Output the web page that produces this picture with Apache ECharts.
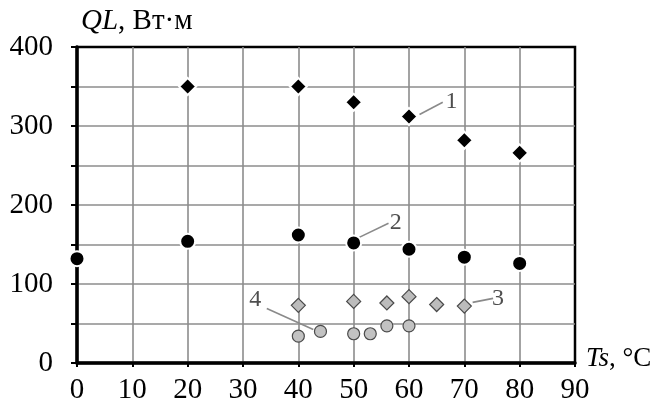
<!DOCTYPE html>
<html>
<head>
<meta charset="utf-8">
<script src="https://cdn.jsdelivr.net/npm/echarts@6/dist/echarts.min.js"></script>
<style>
  html, body { margin: 0; padding: 0; background: #fff; }
  #chart { width: 658px; height: 403px; }
</style>
</head>
<body>
<div id="chart"></div>
<script>
// Heat flux per unit length QL vs. surface temperature Ts, four data sets
const ts1 = [20, 40, 50, 60, 70, 80];
const ql1 = [350, 350, 330, 312, 282, 266];

const ts2 = [0, 20, 40, 50, 60, 70, 80];
const ql2 = [132, 154, 162, 152, 144, 134, 126];

const ts3 = [40, 50, 56, 60, 65, 70];
const ql3 = [73, 78, 76, 84, 74, 72];

const ts4 = [40, 44, 50, 53, 56, 60];
const ql4 = [34, 40, 37, 37, 47, 47];

// Curve numbers and their leader lines, in data units (Ts, QL)
const calloutText = ['1', '2', '3', '4'];
const calloutAt = [[67.7, 331], [57.6, 178], [76.1, 81], [32.2, 80]];
const leaderFrom = [[61.9, 314.5], [51.0, 159], [71.5, 76.7], [34.3, 69.1]];
const leaderTo = [[66.1, 330], [56.3, 177], [75.2, 81.8], [42.7, 42.4]];

const xTicks = [0, 10, 20, 30, 40, 50, 60, 70, 80, 90];
const yTicks = [0, 100, 200, 300, 400];

const FONT = '"Liberation Serif", "Times New Roman", serif';

const pairs = (xs, ys) => xs.map((x, i) => [x, ys[i]]);

const chart = echarts.init(document.getElementById('chart'), null, { renderer: 'canvas' });

const gridLine = { show: true, showMinLine: false, showMaxLine: false,
  lineStyle: { color: '#8c8c8c', width: 1.6 } };

chart.setOption({
  animation: false,
  backgroundColor: '#fff',
  grid: {
    left: 77, right: 83, top: 47, bottom: 40,
    outerBoundsMode: 'none', containLabel: false,
    show: true, borderColor: '#000', borderWidth: 2.5
  },
  xAxis: {
    type: 'value',
    min: xTicks[0], max: xTicks[xTicks.length - 1], interval: 10,
    name: '{i|Ts}{r|, °C}',
    nameLocation: 'end',
    nameGap: 11,
    nameTextStyle: {
      padding: [0, 0, 8, 0],
      rich: {
        i: { fontFamily: FONT, fontSize: 27, fontStyle: 'italic', color: '#000' },
        r: { fontFamily: FONT, fontSize: 27, color: '#000' }
      }
    },
    axisLine: { show: true, onZero: false, lineStyle: { color: '#000', width: 3.5 } },
    axisTick: { show: true, inside: false, length: 4, lineStyle: { color: '#000', width: 2 } },
    axisLabel: { fontFamily: FONT, fontSize: 29, color: '#000', margin: 13 },
    splitLine: gridLine
  },
  yAxis: {
    type: 'value',
    min: yTicks[0], max: yTicks[yTicks.length - 1], interval: 50,
    name: '{i|QL}{r|, Вт·м}',
    nameLocation: 'end',
    nameGap: 11,
    nameTextStyle: {
      align: 'left',
      padding: [0, 0, 0, 4],
      rich: {
        i: { fontFamily: FONT, fontSize: 29, fontStyle: 'italic', color: '#000' },
        r: { fontFamily: FONT, fontSize: 29, color: '#000' }
      }
    },
    axisLine: { show: true, onZero: false, lineStyle: { color: '#000', width: 3.5 } },
    axisTick: { show: true, inside: false, length: 6, lineStyle: { color: '#000', width: 2 } },
    axisLabel: {
      fontFamily: FONT, fontSize: 29, color: '#000', margin: 24,
      formatter: v => (yTicks.indexOf(v) >= 0 ? String(v) : '')
    },
    splitLine: gridLine
  },
  series: [
    {
      name: '1', type: 'scatter', symbol: 'diamond', symbolSize: 17,
      data: pairs(ts1, ql1),
      itemStyle: { color: '#000', opacity: 1, borderColor: '#fff', borderWidth: 2 },
      z: 5
    },
    {
      name: '2', type: 'scatter', symbol: 'circle', symbolSize: 15,
      data: pairs(ts2, ql2),
      itemStyle: { color: '#000', opacity: 1, borderColor: '#fff', borderWidth: 2 },
      z: 5
    },
    {
      name: '3', type: 'scatter', symbol: 'diamond', symbolSize: 14,
      data: pairs(ts3, ql3),
      itemStyle: { color: '#bcbcbc', opacity: 1, borderColor: '#4a4a4a', borderWidth: 1.2 },
      z: 5
    },
    {
      name: '4', type: 'scatter', symbol: 'circle', symbolSize: 12,
      data: pairs(ts4, ql4),
      itemStyle: { color: '#c2c2c2', opacity: 1, borderColor: '#4a4a4a', borderWidth: 1.2 },
      z: 5
    },
    {
      // curve numbers with leader lines
      name: 'callouts', type: 'scatter', symbolSize: 1,
      itemStyle: { color: 'rgba(0,0,0,0)' },
      data: calloutAt.map((p, i) => ({ value: p, name: calloutText[i] })),
      label: {
        show: true, position: 'inside', formatter: '{b}',
        fontFamily: FONT, fontSize: 24, color: '#222'
      },
      markLine: {
        silent: true, symbol: 'none', animation: false,
        label: { show: false },
        lineStyle: { color: '#8a8a8a', width: 1.6, type: 'solid' },
        data: leaderFrom.map((p, i) => [{ coord: p }, { coord: leaderTo[i] }])
      },
      z: 6
    }
  ]
});
</script>
</body>
</html>
